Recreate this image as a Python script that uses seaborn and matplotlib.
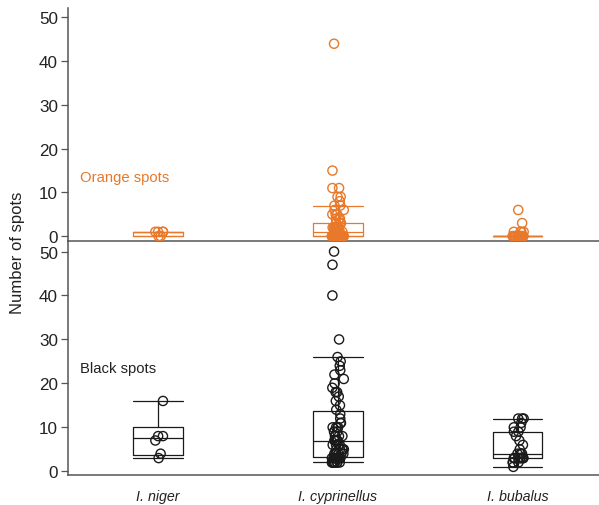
import numpy as np
import pandas as pd
import matplotlib
matplotlib.use("Agg")
import matplotlib.pyplot as plt
import seaborn as sns

# ---------------- data ----------------
species = ["I. niger", "I. cyprinellus", "I. bubalus"]

orange_niger = [0, 0, 1, 1, 1, 1]
black_niger = [3, 4, 7, 8, 8, 16]

orange_cyprinellus = ([0] * 30 + [1] * 10 + [2] * 10 + [3] * 5 + [4] * 3 + [5] * 3 +
                      [6] * 2 + [7] * 2 + [8] + [9] * 2 + [11] * 2 + [15, 44])
black_cyprinellus = ([2] * 8 + [3] * 10 + [4] * 6 + [5] * 5 + [6] * 4 + [7] * 6 +
                     [8] * 4 + [9] * 3 + [10] * 4 + [11] * 2 + [12, 13] +
                     [14, 15, 16, 17, 18, 18, 19, 20, 21, 22, 23, 24, 25, 26, 30, 40, 47, 50])

orange_bubalus = [0] * 22 + [1] * 4 + [3, 6]
black_bubalus = [1, 2, 2, 2, 3, 3, 3, 3, 3, 3, 3, 3, 4, 4, 4, 4, 5, 6, 7, 8,
                 9, 9, 10, 10, 11, 12, 12, 12]

y_ticks = [0, 10, 20, 30, 40, 50]

orange_df = pd.DataFrame({
    "species": [species[0]] * len(orange_niger) + [species[1]] * len(orange_cyprinellus)
    + [species[2]] * len(orange_bubalus),
    "spots": orange_niger + orange_cyprinellus + orange_bubalus,
})
black_df = pd.DataFrame({
    "species": [species[0]] * len(black_niger) + [species[1]] * len(black_cyprinellus)
    + [species[2]] * len(black_bubalus),
    "spots": black_niger + black_cyprinellus + black_bubalus,
})

# ---------------- style ----------------
sns.set_style("ticks")
plt.rcParams["font.family"] = ["Liberation Sans", "DejaVu Sans"]

ORANGE = "#E8782A"
BLACK = "#1a1a1a"
SPINE = "#555555"

fig = plt.figure(figsize=(5.99, 5.06), dpi=100)
W, H = 599, 506
left_px, right_px = 67.7, 599
ax_bot = fig.add_axes([left_px / W, 1 - 476 / H, (right_px - left_px) / W, (476 - 242) / H])
ax_top = fig.add_axes([left_px / W, 1 - 242 / H, (right_px - left_px) / W, (242 - 9.3) / H])
ax_top.set_facecolor("none")
ax_bot.set_facecolor("none")
ax_top.set_zorder(2)

# Box statistics with (n+1)p quantiles, as in the original figure
_orig_percentile = np.percentile


def _weibull_percentile(a, q, *args, **kw):
    kw.setdefault("method", "weibull")
    return _orig_percentile(a, q, *args, **kw)


def draw_panel(ax, df, color):
    np.percentile = _weibull_percentile
    try:
        sns.boxplot(data=df, x="species", y="spots", order=species, ax=ax,
                    width=0.275, fill=False, color=color, linecolor=color,
                    linewidth=0.9, whis=1.5, showfliers=False, capwidths=0.275)
    finally:
        np.percentile = _orig_percentile
    np.random.seed(3)
    sns.stripplot(data=df, x="species", y="spots", order=species, ax=ax,
                  jitter=0.035, size=6.6, marker="o", facecolor="none",
                  edgecolor=color, linewidth=1.0, color=color, zorder=3)


draw_panel(ax_top, orange_df, ORANGE)
draw_panel(ax_bot, black_df, BLACK)

for ax, ylim in ((ax_top, (-1.1, 52.1)), (ax_bot, (-0.85, 52.4))):
    ax.set_xlim(-0.502, 2.452)
    ax.set_ylim(*ylim)
    ax.set_yticks(y_ticks)
    ax.set_ylabel("")
    ax.set_xlabel("")
    for s in ("top", "right"):
        ax.spines[s].set_visible(False)
    for s in ("left", "bottom"):
        ax.spines[s].set_color(SPINE)
        ax.spines[s].set_linewidth(1.1)
    ax.tick_params(axis="y", length=4.8, width=0.9, color=SPINE, pad=2.2,
                   labelsize=12.3, labelcolor="#222222")

ax_top.tick_params(axis="x", length=0, labelbottom=False)
ax_bot.tick_params(axis="x", length=0, pad=10, labelsize=10.3, labelcolor="#222222")
for lab in ax_bot.get_xticklabels():
    lab.set_fontstyle("italic")

ax_top.text(80 / W, 1 - 178 / H, "Orange spots", transform=fig.transFigure,
            color=ORANGE, fontsize=10.7, ha="left", va="center")
ax_bot.text(80 / W, 1 - 369 / H, "Black spots", transform=fig.transFigure,
            color="#222222", fontsize=10.7, ha="left", va="center")

fig.text(18 / W, 1 - 253 / H, "Number of spots", rotation=90, ha="center",
         va="center", fontsize=12, color="#222222")

fig.savefig("out.png", dpi=100)
